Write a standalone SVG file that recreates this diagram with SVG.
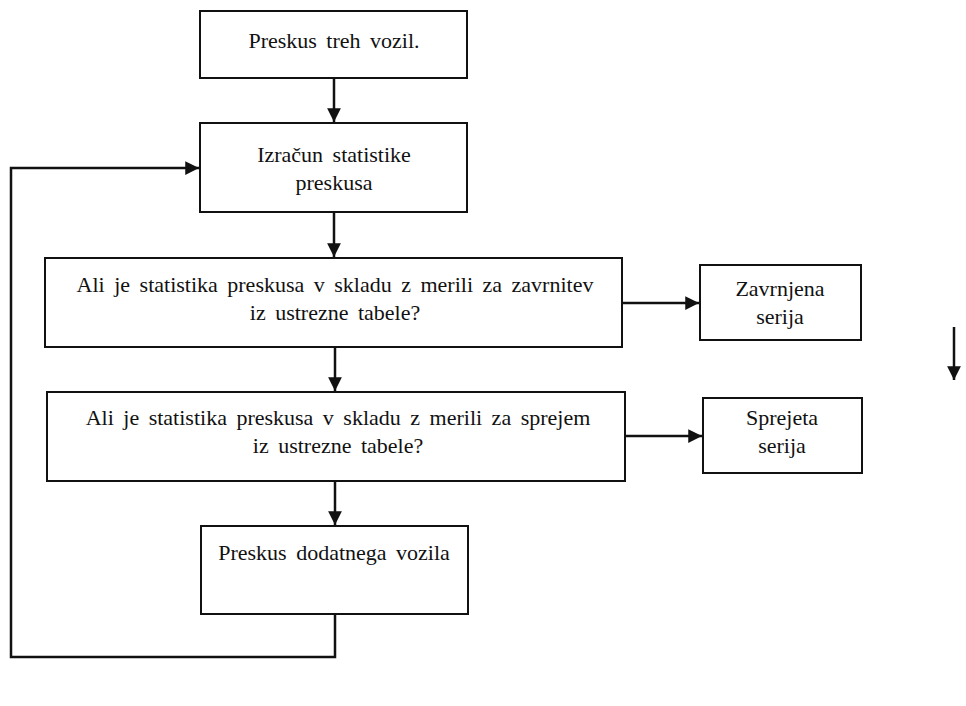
<svg xmlns="http://www.w3.org/2000/svg" width="966" height="706" viewBox="0 0 966 706">
<style>
.box{fill:#fff;stroke:#111;stroke-width:2}
.t{font-family:"Liberation Serif",serif;font-size:22px;fill:#111;text-anchor:middle;word-spacing:4px}
.c{fill:none;stroke:#111;stroke-width:2.5}
</style>
<defs>
<marker id="ah" viewBox="0 0 10 10" refX="10" refY="5" markerWidth="5.5" markerHeight="5.5" orient="auto" markerUnits="strokeWidth">
<path d="M0,0 L10,5 L0,10 z" fill="#111"/>
</marker>
</defs>
<rect width="966" height="706" fill="#fff"/>
<g id="connectors">
<line class="c" x1="334" y1="78" x2="334" y2="122" marker-end="url(#ah)"/>
<line class="c" x1="334" y1="212" x2="334" y2="257" marker-end="url(#ah)"/>
<line class="c" x1="622" y1="303" x2="699" y2="303" marker-end="url(#ah)"/>
<line class="c" x1="335" y1="347" x2="335" y2="391" marker-end="url(#ah)"/>
<line class="c" x1="625" y1="436" x2="702" y2="436" marker-end="url(#ah)"/>
<line class="c" x1="335" y1="481" x2="335" y2="525" marker-end="url(#ah)"/>
<polyline class="c" points="335,614 335,657 11,657 11,168 199,168" marker-end="url(#ah)"/>
<line class="c" x1="954" y1="327" x2="954" y2="380" marker-end="url(#ah)"/>
</g>
<g id="n1">
<rect class="box" x="200" y="11" width="267" height="67"/>
<text class="t" x="334" y="48">Preskus treh vozil.</text>
</g>
<g id="n2">
<rect class="box" x="200" y="123" width="267" height="89"/>
<text class="t" x="334" y="162">Izračun statistike</text>
<text class="t" x="334" y="190">preskusa</text>
</g>
<g id="n3">
<rect class="box" x="45" y="258" width="577" height="89"/>
<text class="t" x="335" y="292">Ali je statistika preskusa v skladu z merili za zavrnitev</text>
<text class="t" x="335" y="320">iz ustrezne tabele?</text>
</g>
<g id="n4">
<rect class="box" x="700" y="265" width="161" height="75"/>
<text class="t" x="780" y="296">Zavrnjena</text>
<text class="t" x="780" y="324">serija</text>
</g>
<g id="n5">
<rect class="box" x="47" y="392" width="578" height="89"/>
<text class="t" x="338" y="425">Ali je statistika preskusa v skladu z merili za sprejem</text>
<text class="t" x="338" y="453">iz ustrezne tabele?</text>
</g>
<g id="n6">
<rect class="box" x="703" y="398" width="159" height="75"/>
<text class="t" x="782" y="425">Sprejeta</text>
<text class="t" x="782" y="453">serija</text>
</g>
<g id="n7">
<rect class="box" x="201" y="526" width="267" height="88"/>
<text class="t" x="334" y="560">Preskus dodatnega vozila</text>
</g>
</svg>
